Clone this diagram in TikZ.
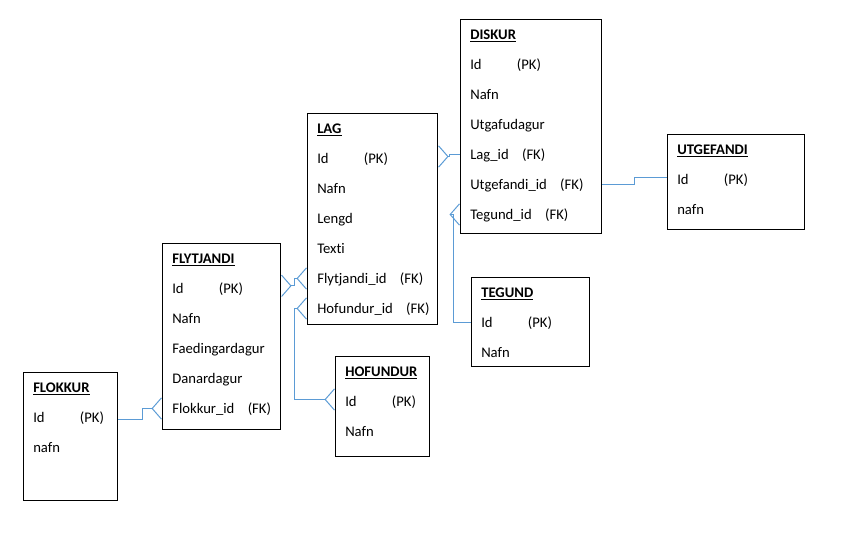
\documentclass[tikz,border=0pt]{standalone}
\usepackage{fontspec}
\setmainfont{Carlito}[Ligatures=NoCommon]
\usepackage{tikz}
\usetikzlibrary{positioning,arrows.meta,calc}
\usepackage{xcolor}
\definecolor{linkblue}{RGB}{91,155,213}

\begin{document}
\begin{tikzpicture}[
			x=0.75pt, y=-0.75pt,
			font=\fontsize{11pt}{13pt}\selectfont,
			% Define styles for the tables and their rows
			tbl/.style={rectangle, draw, line width=0.8pt, anchor=north west, inner sep=0pt},
			fld/.style={anchor=west, inner sep=0pt, text height=7pt, text depth=0pt},
			ttl/.style={fld, font=\fontsize{11pt}{13pt}\selectfont\bfseries},
			crow/.tip={Straight Barb[reversed, length=7pt, width=16pt]},
			link/.style={draw=linkblue, line width=0.75pt}
			]
			\useasboundingbox (0,0) rectangle (866,534);
			
			% --- Tables ---
			\node (diskur) [tbl, minimum width=105.75pt, minimum height=160.5pt] at (460,19) {};
			\node (lag) [tbl, minimum width=97.5pt, minimum height=158.25pt] at (307,113) {};
			\node (utgefandi) [tbl, minimum width=102.75pt, minimum height=71.25pt] at (667,134) {};
			\node (flytjandi) [tbl, minimum width=88.5pt, minimum height=139.5pt] at (162,243) {};
			\node (tegund) [tbl, minimum width=88.5pt, minimum height=66.75pt] at (471,277) {};
			\node (hofundur) [tbl, minimum width=70.5pt, minimum height=75pt] at (335,356) {};
			\node (flokkur) [tbl, minimum width=70.5pt, minimum height=96pt] at (23,372) {};
			
			% --- DISKUR rows ---
			\node (diskur-t) [ttl] at ([shift={(10,15.5)}]diskur.north west) {\underline{DISKUR}};
			\node (diskur-id) [fld] at ([shift={(10,45.5)}]diskur.north west) {\makebox[35pt][l]{Id}(PK)};
			\node (diskur-nafn) [fld] at ([shift={(10,75.5)}]diskur.north west) {Nafn};
			\node (diskur-utg) [fld] at ([shift={(10,105.5)}]diskur.north west) {Utgafudagur};
			\node (diskur-lag) [fld] at ([shift={(10,135.5)}]diskur.north west) {Lag\_id\hspace{10pt}(FK)};
			\node (diskur-utgef) [fld] at ([shift={(10,165.5)}]diskur.north west) {Utgefandi\_id\hspace{10pt}(FK)};
			\node (diskur-teg) [fld] at ([shift={(10,195.5)}]diskur.north west) {Tegund\_id\hspace{10pt}(FK)};
			
			% --- LAG rows ---
			\node (lag-t) [ttl] at ([shift={(10,15.5)}]lag.north west) {\underline{LAG}};
			\node (lag-id) [fld] at ([shift={(10,45.5)}]lag.north west) {\makebox[35pt][l]{Id}(PK)};
			\node (lag-nafn) [fld] at ([shift={(10,75.5)}]lag.north west) {Nafn};
			\node (lag-lengd) [fld] at ([shift={(10,105.5)}]lag.north west) {Lengd};
			\node (lag-texti) [fld] at ([shift={(10,135.5)}]lag.north west) {Texti};
			\node (lag-flyt) [fld] at ([shift={(10,165.5)}]lag.north west) {Flytjandi\_id\hspace{10pt}(FK)};
			\node (lag-hof) [fld] at ([shift={(10,195.5)}]lag.north west) {Hofundur\_id\hspace{10pt}(FK)};
			
			% --- UTGEFANDI rows ---
			\node (utgefandi-t) [ttl] at ([shift={(10,15.5)}]utgefandi.north west) {\underline{UTGEFANDI}};
			\node (utgefandi-id) [fld] at ([shift={(10,45.5)}]utgefandi.north west) {\makebox[35pt][l]{Id}(PK)};
			\node (utgefandi-nafn) [fld] at ([shift={(10,75.5)}]utgefandi.north west) {nafn};
			
			% --- FLYTJANDI rows ---
			\node (flytjandi-t) [ttl] at ([shift={(10,15.5)}]flytjandi.north west) {\underline{FLYTJANDI}};
			\node (flytjandi-id) [fld] at ([shift={(10,45.5)}]flytjandi.north west) {\makebox[35pt][l]{Id}(PK)};
			\node (flytjandi-nafn) [fld] at ([shift={(10,75.5)}]flytjandi.north west) {Nafn};
			\node (flytjandi-faed) [fld] at ([shift={(10,105.5)}]flytjandi.north west) {Faedingardagur};
			\node (flytjandi-dan) [fld] at ([shift={(10,135.5)}]flytjandi.north west) {Danardagur};
			\node (flytjandi-flok) [fld] at ([shift={(10,165.5)}]flytjandi.north west) {Flokkur\_id\hspace{10pt}(FK)};
			
			% --- TEGUND rows ---
			\node (tegund-t) [ttl] at ([shift={(10,15.5)}]tegund.north west) {\underline{TEGUND}};
			\node (tegund-id) [fld] at ([shift={(10,45.5)}]tegund.north west) {\makebox[35pt][l]{Id}(PK)};
			\node (tegund-nafn) [fld] at ([shift={(10,75.5)}]tegund.north west) {Nafn};
			
			% --- HOFUNDUR rows ---
			\node (hofundur-t) [ttl] at ([shift={(10,15.5)}]hofundur.north west) {\underline{HOFUNDUR}};
			\node (hofundur-id) [fld] at ([shift={(10,45.5)}]hofundur.north west) {\makebox[35pt][l]{Id}(PK)};
			\node (hofundur-nafn) [fld] at ([shift={(10,75.5)}]hofundur.north west) {Nafn};
			
			% --- FLOKKUR rows ---
			\node (flokkur-t) [ttl] at ([shift={(10,15.5)}]flokkur.north west) {\underline{FLOKKUR}};
			\node (flokkur-id) [fld] at ([shift={(10,45.5)}]flokkur.north west) {\makebox[35pt][l]{Id}(PK)};
			\node (flokkur-nafn) [fld] at ([shift={(10,75.5)}]flokkur.north west) {nafn};
			
			% --- Relations ---
			\draw[link, -crow] ([yshift=-1.5pt]flokkur.east |- flokkur-id) -- ++(24,0) |- (flytjandi.west |- flytjandi-flok);
			\draw[link, crow-crow] ([yshift=2pt]flytjandi.east |- flytjandi-id) -- ++(13,0) |- (lag.west |- lag-flyt);
			\draw[link, crow-crow] (lag.west |- lag-hof) -- ++(-13,0) |- ([yshift=1.5pt]hofundur.west |- hofundur-id);
			\draw[link, -crow] (diskur.west |- diskur-lag) -- ++(-11,0) |- ([yshift=1.5pt]lag.east |- lag-id);
			\draw[link, crow-] (diskur.west |- diskur-teg) -- ++(-7,0) |- (tegund.west |- tegund-id);
			
			% Utgefandi joins Diskur on the right side
			\draw[link] ([yshift=1.5pt]utgefandi.west |- utgefandi-id) -- ++(-33,0) |- (diskur.east |- diskur-utgef);
			
		\end{tikzpicture}
\end{document}
